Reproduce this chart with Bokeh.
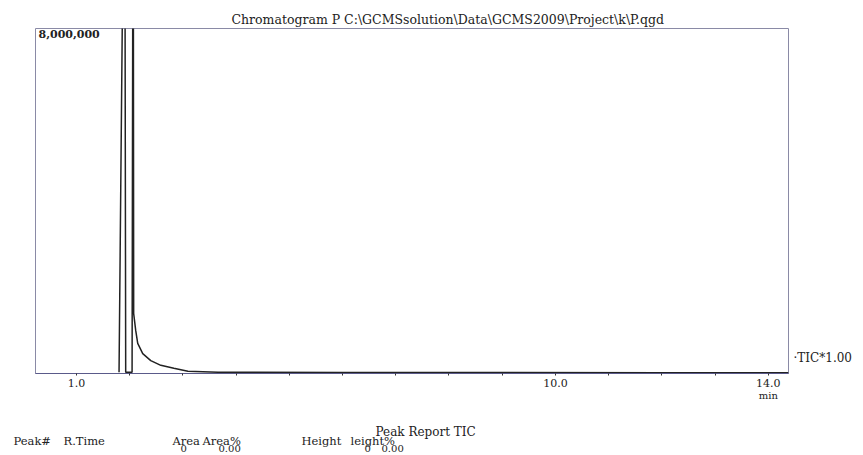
from bokeh.plotting import figure
from bokeh.models import Range1d, FixedTicker, Label, ColumnDataSource, LinearAxis
from bokeh.layouts import column
from bokeh.core.properties import value
from bokeh.embed import file_html
from bokeh.resources import INLINE

# ---- data ----
title_text = "Chromatogram P C:\\GCMSsolution\\Data\\GCMS2009\\Project\\k\\P.qgd"
rt_min = [1.80, 1.905, 1.925, 2.045, 2.065, 2.075, 2.113, 2.151, 2.245, 2.396, 2.585, 2.830, 3.094, 3.66, 6.0, 9.0, 12.0, 14.38]
tic = [30000, 14000000, 30000, 30000, 14000000, 1390000, 1000000, 700000, 460000, 300000, 190000, 120000, 50000, 30000, 25000, 22000, 20000, 20000]
x_start, x_end = 0.23, 14.38
y_max = 8000000
major_ticks = [1.0, 10.0, 14.0]
minor_ticks = [2, 3, 4, 5, 6, 7, 8, 9, 11, 12, 13]
unit_label = "min"
scale_label = "\u00b7TIC*1.00"
report_title = "Peak Report TIC"
report_headers = ["Peak#", "R.Time", "Area", "Area%", "Height", "leight%"]
report_values = ["0", "0.00", "0", "0.00"]

W = 863
H_MAIN, H_REP = 405, 50
FONT = "DejaVu Serif"
INK = "#222222"

p = figure(width=W, height=H_MAIN, output_backend="svg", toolbar_location=None,
           x_range=Range1d(x_start, x_end), y_range=Range1d(0, y_max),
           min_border_left=35, min_border_right=75, min_border_top=28, min_border_bottom=32)
p.frame_align = False
p.background_fill_color = "white"
p.border_fill_color = "white"
p.outline_line_color = "#8a8aa6"
p.outline_line_width = 1
p.xgrid.visible = False
p.ygrid.visible = False
p.yaxis.visible = False

p.title.text = title_text
p.title.align = "left"
p.title.offset = 196
p.title.text_font = FONT
p.title.text_font_size = "12.5px"
p.title.text_font_style = "normal"
p.title.text_color = INK
p.title.standoff = 4

ax = p.xaxis[0]
ax.ticker = FixedTicker(ticks=major_ticks, minor_ticks=minor_ticks)
ax.major_label_overrides = {t: f"{t:.1f}" for t in major_ticks}
ax.axis_line_color = "#5a5a8a"
ax.major_tick_line_color = "#333333"
ax.minor_tick_line_color = "#333333"
ax.major_tick_out = 2
ax.major_tick_in = 0
ax.minor_tick_out = 2
ax.minor_tick_in = 0
ax.major_label_standoff = 3
ax.major_label_text_font = FONT
ax.major_label_text_font_size = "11px"
ax.major_label_text_color = INK

# "min" unit below the 14.0 tick label
ax_unit = LinearAxis(ticker=FixedTicker(ticks=[major_ticks[-1]]),
                     major_label_overrides={major_ticks[-1]: unit_label})
ax_unit.axis_line_color = None
ax_unit.major_tick_line_color = None
ax_unit.minor_tick_line_color = None
ax_unit.major_tick_out = 0
ax_unit.major_label_standoff = 0
ax_unit.major_label_text_font = FONT
ax_unit.major_label_text_font_size = "10px"
ax_unit.major_label_text_color = INK
p.add_layout(ax_unit, "below")

# "TIC*1.00" scale note at the right, just above the baseline
scale_pos = 350000
ax_scale = LinearAxis(ticker=FixedTicker(ticks=[scale_pos]),
                      major_label_overrides={scale_pos: scale_label})
ax_scale.axis_line_color = None
ax_scale.major_tick_line_color = None
ax_scale.minor_tick_line_color = None
ax_scale.major_tick_out = 0
ax_scale.major_label_standoff = 5
ax_scale.major_label_text_font = FONT
ax_scale.major_label_text_font_size = "12px"
ax_scale.major_label_text_color = INK
p.add_layout(ax_scale, "right")

src = ColumnDataSource(dict(t=rt_min, i=tic))
p.line("t", "i", source=src, line_color=INK, line_width=1.5)

p.add_layout(Label(x=3, y=340, x_units="screen", y_units="screen", text=f"{y_max:,}",
                   text_font=FONT, text_font_size="11px", text_font_style="bold",
                   text_baseline="middle", text_color=INK))

# ---- peak report block ----
r = figure(width=W, height=H_REP, output_backend="svg", toolbar_location=None,
           x_range=Range1d(0, W), y_range=Range1d(H_REP, 0),
           min_border=0, min_border_left=0, min_border_right=0,
           min_border_top=0, min_border_bottom=0)
r.frame_align = False
r.axis.visible = False
r.grid.visible = False
r.outline_line_color = None
r.background_fill_color = "white"
r.border_fill_color = "white"

rep = ColumnDataSource(dict(
    txt=[report_title] + report_headers + report_values,
    x=[375, 13, 63, 172, 202, 301, 350, 180, 218, 364, 381],
    y=[26, 35, 35, 35, 35, 35, 35, 43, 43, 43, 43],
    fs=["12px"] + ["11.5px"] * 6 + ["10px"] * 4,
))
r.text(x="x", y="y", text="txt", source=rep, text_font=value(FONT),
       text_font_size="fs", text_baseline="middle", text_align="left", text_color=INK)

layout = column(p, r, spacing=0)
open("out.html", "w").write(file_html(layout, INLINE))
